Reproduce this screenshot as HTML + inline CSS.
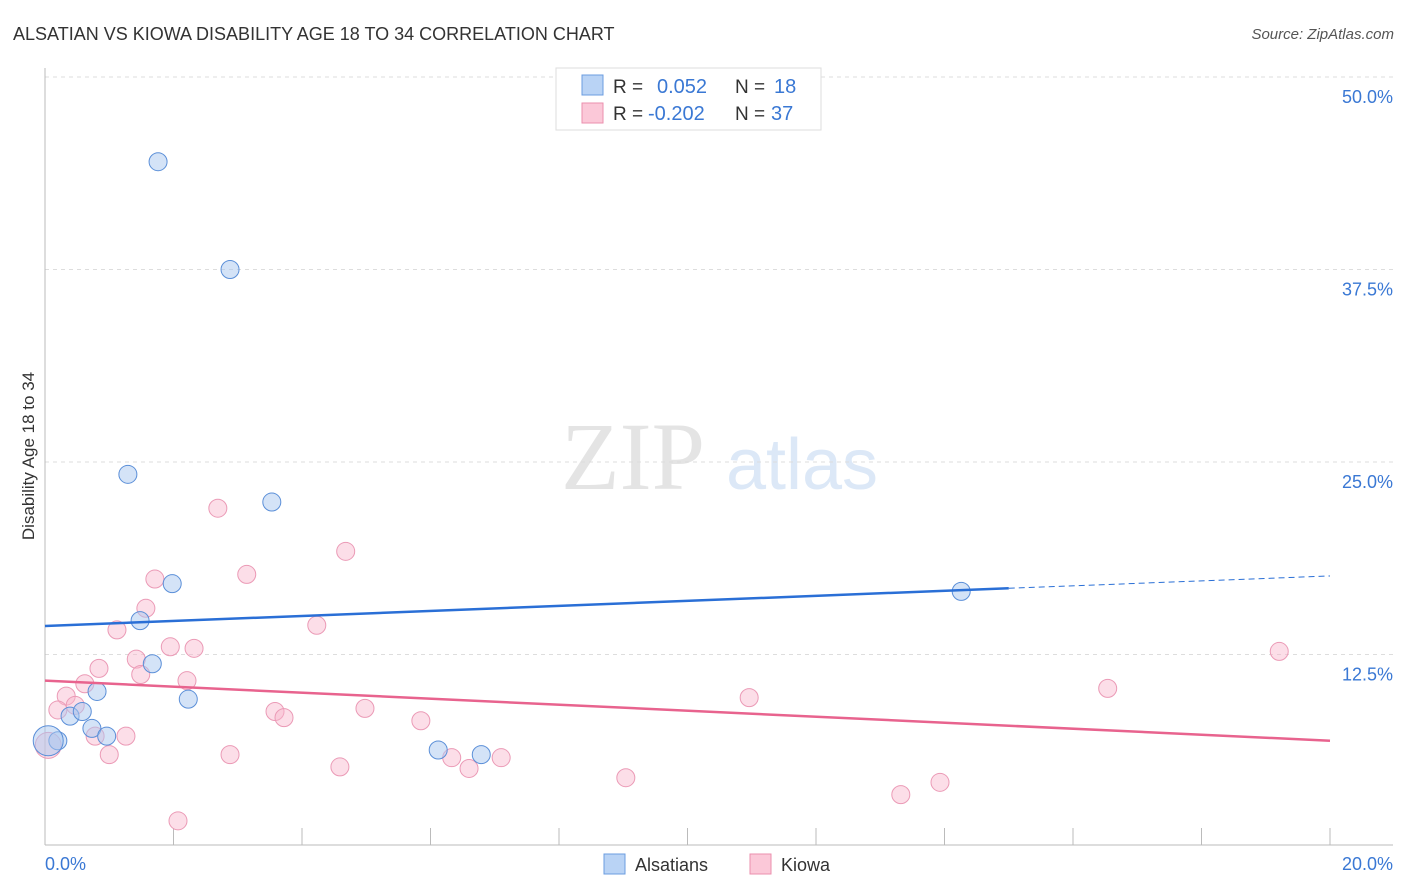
<!DOCTYPE html>
<html><head><meta charset="utf-8"><style>
body{margin:0;background:#fff;font-family:"Liberation Sans",sans-serif;}
svg{display:block}
</style></head><body>
<svg id="chart" width="1406" height="892" xmlns="http://www.w3.org/2000/svg">
<text x="13" y="40" font-size="18" fill="#333">ALSATIAN VS KIOWA DISABILITY AGE 18 TO 34 CORRELATION CHART</text>
<text x="1394" y="39" font-size="15" fill="#555" text-anchor="end" font-style="italic">Source: ZipAtlas.com</text>
<g>
<text x="633" y="489" font-size="96" fill="#e4e4e4" font-family="Liberation Serif,serif" text-anchor="middle">ZIP</text>
<text x="802" y="489" font-size="72" fill="#dce8f7" text-anchor="middle">atlas</text>
</g>
<g id="grid"></g>
<g id="axes"></g>
<g id="marks"></g>
<text transform="translate(34,456) rotate(-90)" font-size="17" fill="#333" text-anchor="middle">Disability Age 18 to 34</text>
<g>
<rect x="556" y="68" width="265" height="62" fill="#fff" stroke="#ddd"/>
<rect x="582" y="75" width="21" height="20" fill="#b9d3f5" stroke="#6b9de0"/>
<rect x="582" y="103" width="21" height="20" fill="#fbc8d8" stroke="#eb8fae"/>
<text x="613" y="93" font-size="19" fill="#333">R =</text>
<text x="657" y="93" font-size="20" fill="#3a78d4">0.052</text>
<text x="735" y="93" font-size="19" fill="#333">N =</text>
<text x="774" y="93" font-size="20" fill="#3a78d4">18</text>
<text x="613" y="120" font-size="19" fill="#333">R =</text>
<text x="648" y="120" font-size="20" fill="#3a78d4">-0.202</text>
<text x="735" y="120" font-size="19" fill="#333">N =</text>
<text x="771" y="120" font-size="20" fill="#3a78d4">37</text>
</g>
<g>
<rect x="604" y="854" width="21" height="20" fill="#b9d3f5" stroke="#6b9de0"/>
<text x="635" y="871" font-size="18" fill="#333">Alsatians</text>
<rect x="750" y="854" width="21" height="20" fill="#fbc8d8" stroke="#eb8fae"/>
<text x="781" y="871" font-size="18" fill="#333">Kiowa</text>
</g>
</svg>
<script>
const blueX=[1.76,2.88,1.29,3.53,1.98,1.48,1.67,0.81,2.23,0.39,0.58,0.73,0.96,0.20,0.05,6.12,6.79,14.26];
const blueY=[44.5,37.5,24.2,22.4,17.1,14.7,11.9,10.1,9.6,8.5,8.8,7.7,7.2,6.9,6.9,6.3,6.0,16.6];
const blueR=[9,9,9,9,9,9,9,9,9,9,9,9,9,9,15,9,9,9];
const pinkX=[2.69,4.68,1.71,3.14,1.57,1.12,4.23,1.95,2.32,1.42,0.84,1.49,2.21,0.62,0.33,0.20,0.47,0.78,1.26,1.00,3.58,3.72,4.98,5.85,2.88,4.59,6.33,6.60,7.10,9.04,2.07,10.96,16.54,19.21,13.32,13.93,0.05];
const pinkY=[22.0,19.2,17.4,17.7,15.5,14.1,14.4,13.0,12.9,12.2,11.6,11.2,10.8,10.6,9.8,8.9,9.2,7.2,7.2,6.0,8.8,8.4,9.0,8.2,6.0,5.2,5.8,5.1,5.8,4.5,1.7,9.7,10.3,12.7,3.4,4.2,6.6];
const pinkR=pinkX.map((v,i)=>i===pinkX.length-1?13:9);
const yTicks=[12.5,25.0,37.5,50.0];
const yTickLabels=["12.5%","25.0%","37.5%","50.0%"];
const xTicks=[0,2,4,6,8,10,12,14,16,18,20];
const blueTrend=[0,14.35,15,16.8,20,17.6];
const pinkTrend=[0,10.8,20,6.9];
const X=v=>45+v*64.25, Y=v=>847-v*15.4;
const NS="http://www.w3.org/2000/svg";
function mk(parent,tag,attrs){const e=document.createElementNS(NS,tag);for(const k in attrs)e.setAttribute(k,attrs[k]);document.getElementById(parent).appendChild(e);return e;}
yTicks.forEach((t,i)=>{
 const l=mk('grid','line',{x1:45,x2:1393,y1:Y(t),y2:Y(t),stroke:'#ddd','stroke-dasharray':'4,4'});
 
 
 const tx=mk('grid','text',{x:1393,y:Y(t)+26,'font-size':18,fill:'#3a78d4','text-anchor':'end'});
 tx.textContent=yTickLabels[i];
 
 
});
const la=mk('axes','line',{x1:45,x2:45,y1:68,y2:845,stroke:'#bbb'});


const lb=mk('axes','line',{x1:45,x2:1393,y1:845,y2:845,stroke:'#bbb'});


xTicks.forEach(t=>{
 const l=mk('axes','line',{x1:X(t),x2:X(t),y1:828,y2:845,stroke:'#bbb'});
 
 
});
const x0=mk('axes','text',{x:45,y:870,'font-size':18,fill:'#3a78d4'});x0.textContent='0.0%';


const x1=mk('axes','text',{x:1393,y:870,'font-size':18,fill:'#3a78d4','text-anchor':'end'});x1.textContent='20.0%';


pinkX.forEach((v,i)=>{
 const c=mk('marks','circle',{cx:X(v),cy:Y(pinkY[i]),r:pinkR[i],fill:'rgba(248,182,204,0.45)',stroke:'#eb9ab6','stroke-width':1});
 
 
});
blueX.forEach((v,i)=>{
 const c=mk('marks','circle',{cx:X(v),cy:Y(blueY[i]),r:blueR[i],fill:'rgba(170,200,240,0.5)',stroke:'#5b8fd8','stroke-width':1});
 
 
});
const b1=mk('marks','line',{x1:X(blueTrend[0]),y1:Y(blueTrend[1]),x2:X(blueTrend[2]),y2:Y(blueTrend[3]),stroke:'#2a6fd6','stroke-width':2.5});


const b2=mk('marks','line',{x1:X(blueTrend[2]),y1:Y(blueTrend[3]),x2:X(blueTrend[4]),y2:Y(blueTrend[5]),stroke:'#2a6fd6','stroke-width':1,'stroke-dasharray':'6,4'});


const p1=mk('marks','line',{x1:X(pinkTrend[0]),y1:Y(pinkTrend[1]),x2:X(pinkTrend[2]),y2:Y(pinkTrend[3]),stroke:'#e8638e','stroke-width':2.5});


</script>
</body></html>
